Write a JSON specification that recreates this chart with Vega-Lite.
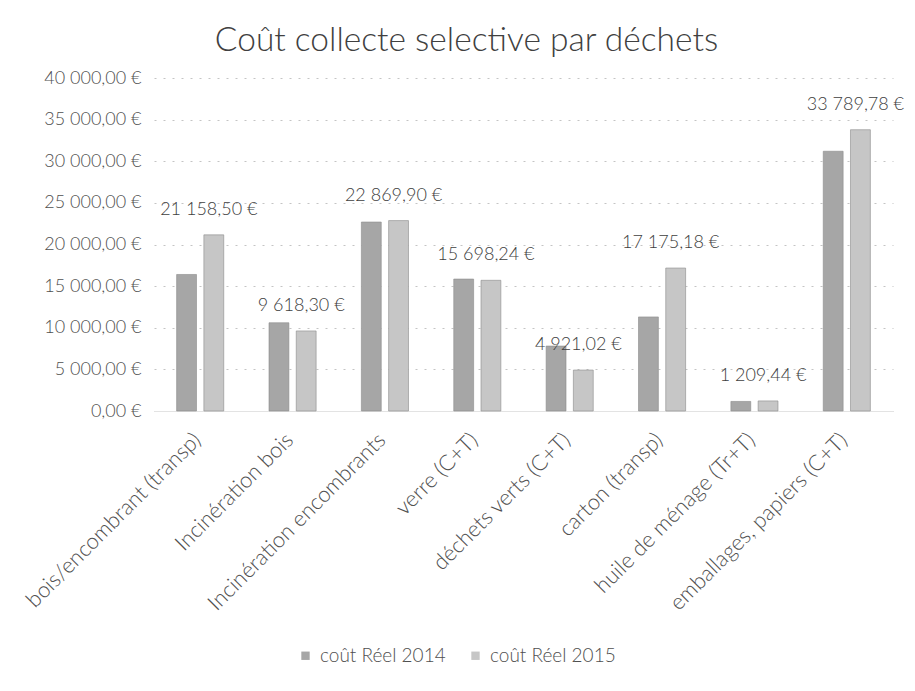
{
  "$schema": "https://vega.github.io/schema/vega-lite/v6.json",
  "autosize": "none",
  "width": 739,
  "height": 333,
  "padding": {"left": 154, "top": 78, "right": 22, "bottom": 280},
  "background": "white",
  "config": {
    "font": "Lato",
    "view": {"stroke": null},
    "locale": {
      "number": {"decimal": ",", "thousands": "\u00a0", "grouping": [3], "currency": ["", "\u00a0€"]}
    }
  },
  "title": {
    "text": "Coût collecte selective par déchets",
    "fontSize": 33.5,
    "fontWeight": 300,
    "color": "#404040",
    "font": "Lato",
    "anchor": "middle",
    "dx": -57,
    "offset": 11
  },
  "data": {
    "values": [
      {"categorie": "bois/encombrant (transp)", "serie": "coût Réel 2014", "cout": 16400},
      {"categorie": "bois/encombrant (transp)", "serie": "coût Réel 2015", "cout": 21158.50},
      {"categorie": "Incinération bois", "serie": "coût Réel 2014", "cout": 10600},
      {"categorie": "Incinération bois", "serie": "coût Réel 2015", "cout": 9618.30},
      {"categorie": "Incinération encombrants", "serie": "coût Réel 2014", "cout": 22700},
      {"categorie": "Incinération encombrants", "serie": "coût Réel 2015", "cout": 22869.90},
      {"categorie": "verre (C+T)", "serie": "coût Réel 2014", "cout": 15850},
      {"categorie": "verre (C+T)", "serie": "coût Réel 2015", "cout": 15698.24},
      {"categorie": "déchets verts (C+T)", "serie": "coût Réel 2014", "cout": 7800},
      {"categorie": "déchets verts (C+T)", "serie": "coût Réel 2015", "cout": 4921.02},
      {"categorie": "carton (transp)", "serie": "coût Réel 2014", "cout": 11300},
      {"categorie": "carton (transp)", "serie": "coût Réel 2015", "cout": 17175.18},
      {"categorie": "huile de ménage (Tr+T)", "serie": "coût Réel 2014", "cout": 1150},
      {"categorie": "huile de ménage (Tr+T)", "serie": "coût Réel 2015", "cout": 1209.44},
      {"categorie": "emballages, papiers (C+T)", "serie": "coût Réel 2014", "cout": 31200},
      {"categorie": "emballages, papiers (C+T)", "serie": "coût Réel 2015", "cout": 33789.78}
    ]
  },
  "encoding": {
    "x": {
      "field": "categorie",
      "type": "nominal",
      "sort": null,
      "title": null,
      "scale": {"paddingInner": 0.49, "paddingOuter": 0.245},
      "axis": {
        "labelAngle": -45,
        "labelFontSize": 22,
        "labelFontWeight": 300,
        "labelColor": "#505050",
        "labelPadding": 18,
        "labelOffset": -10,
        "labelLimit": 0,
        "ticks": false,
        "domain": true,
        "domainColor": "#e3e3e3"
      }
    },
    "xOffset": {"field": "serie", "type": "nominal", "scale": {"paddingInner": 0.27}},
    "y": {
      "field": "cout",
      "type": "quantitative",
      "title": null,
      "scale": {"domain": [0, 40000]},
      "axis": {
        "values": [0, 5000, 10000, 15000, 20000, 25000, 30000, 35000, 40000],
        "format": "$,.2f",
        "labelFontSize": 18,
        "labelFontWeight": 300,
        "labelColor": "#505050",
        "labelPadding": 13,
        "ticks": false,
        "domain": false,
        "grid": true,
        "gridColor": "#c4c4c4",
        "gridDash": [2, 7],
        "gridWidth": 1
      }
    }
  },
  "layer": [
    {
      "mark": {"type": "bar", "stroke": "#8c8c8c", "strokeWidth": 0.6},
      "encoding": {
        "color": {
          "field": "serie",
          "type": "nominal",
          "title": null,
          "scale": {"domain": ["coût Réel 2014", "coût Réel 2015"], "range": ["#a6a6a6", "#c6c6c6"]},
          "legend": {
            "orient": "none",
            "direction": "horizontal",
            "legendX": 142,
            "legendY": 568,
            "symbolType": "square",
            "symbolSize": 70,
            "symbolStrokeWidth": 0,
            "labelFontSize": 19,
            "labelFontWeight": 300,
            "labelColor": "#505050",
            "columnPadding": 20,
            "labelOffset": 5
          }
        }
      }
    },
    {
      "transform": [{"filter": "datum.serie === 'coût Réel 2015'"}],
      "mark": {"type": "text", "fontSize": 18, "fontWeight": 300, "color": "#404040", "dy": -25, "dx": -5, "baseline": "middle"},
      "encoding": {
        "text": {"field": "cout", "type": "quantitative", "format": "$,.2f"}
      }
    }
  ]
}
